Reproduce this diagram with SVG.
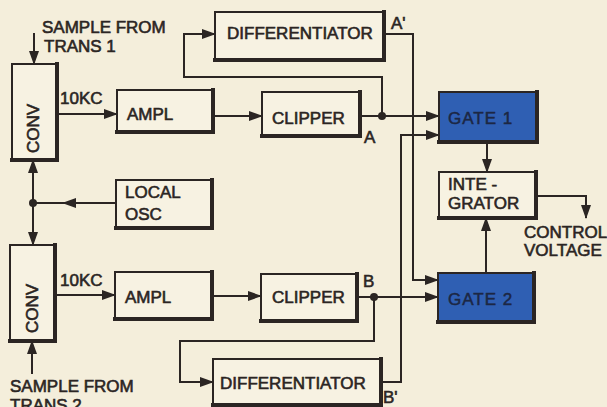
<svg xmlns="http://www.w3.org/2000/svg" width="607" height="407" viewBox="0 0 607 407">
<style>
.bg{fill:#f4eedb}
.box{fill:#f7f2e2;stroke:#2b2523;stroke-width:2}
.gate{fill:#2f5fb3;stroke:#2b2523;stroke-width:2}
.sh{fill:none;stroke:#2b2523;stroke-width:4;stroke-linecap:square}
.t{font-family:"Liberation Sans",Arial,sans-serif;font-size:17px;fill:#2b2523;stroke:#2b2523;stroke-width:0.6}
.tg{font-family:"Liberation Sans",Arial,sans-serif;font-size:17px;fill:#1c2744;stroke:#1c2744;stroke-width:0.5;letter-spacing:1px}
.w{fill:none;stroke:#2b2523;stroke-width:2}
.a{fill:none;stroke:#2b2523;stroke-width:2;marker-end:url(#ah)}
.dot{fill:#2b2523}
</style>
<defs>
<marker id="ah" markerUnits="userSpaceOnUse" markerWidth="14" markerHeight="10" refX="13" refY="5" orient="auto">
<path d="M0,0 L14,5 L0,10 Z" fill="#2b2523"/>
</marker>
</defs>
<rect class="bg" x="0" y="0" width="607" height="407"/>

<g id="connectors">
<path class="a" d="M34,33 V64"/>
<path class="a" d="M57,114 H117"/>
<path class="a" d="M213,116 H262"/>
<path class="a" d="M360,116 H439"/>
<path class="a" d="M382,116 V77 H184 V34 H215"/>
<path class="a" d="M384,34 H413 V280 H438"/>
<path class="a" d="M381,382 H401 V135 H439"/>
<path class="a" d="M357,297 H438"/>
<path class="a" d="M374,297 V341 H180 V382 H213"/>
<path class="a" d="M55,295 H115"/>
<path class="a" d="M212,296 H261"/>
<path class="w" d="M116,203 H33"/>
<path d="M62,203 L76,198 L76,208 Z" fill="#2b2523"/>
<path class="a" d="M33,203 V160"/>
<path class="a" d="M33,203 V245"/>
<path class="a" d="M32,374 V341"/>
<path class="a" d="M487,142 V172"/>
<path class="a" d="M486,273 V218"/>
<path class="a" d="M536,196 H586 V218"/>
<circle class="dot" cx="382" cy="116" r="4"/>
<circle class="dot" cx="374" cy="297" r="4"/>
<circle class="dot" cx="33" cy="203" r="4"/>
</g>

<g id="conv1">
<rect class="box" x="12" y="64" width="45" height="96"/>
<path class="sh" d="M57,64 V160 H12"/>
<text class="t" font-size="16" transform="translate(39,153) rotate(-90)">CONV</text>
</g>
<g id="conv2">
<rect class="box" x="10" y="245" width="45" height="96"/>
<path class="sh" d="M55,245 V341 H10"/>
<text class="t" font-size="16" transform="translate(38,333) rotate(-90)">CONV</text>
</g>
<g id="ampl1">
<rect class="box" x="117" y="90" width="96" height="42"/>
<path class="sh" d="M213,90 V132 H117"/>
<text class="t" x="127" y="120">AMPL</text>
</g>
<g id="ampl2">
<rect class="box" x="115" y="272" width="97" height="47"/>
<path class="sh" d="M212,272 V319 H115"/>
<text class="t" x="125" y="303">AMPL</text>
</g>
<g id="clipper1">
<rect class="box" x="262" y="92" width="98" height="44"/>
<path class="sh" d="M360,92 V136 H262"/>
<text class="t" x="272" y="124">CLIPPER</text>
</g>
<g id="clipper2">
<rect class="box" x="261" y="274" width="96" height="47"/>
<path class="sh" d="M357,274 V321 H261"/>
<text class="t" x="272" y="303">CLIPPER</text>
</g>
<g id="diff1">
<rect class="box" x="215" y="12" width="169" height="48"/>
<path class="sh" d="M384,12 V60 H215"/>
<text class="t" x="227" y="39">DIFFERENTIATOR</text>
</g>
<g id="diff2">
<rect class="box" x="213" y="359" width="168" height="46"/>
<path class="sh" d="M381,359 V405 H213"/>
<text class="t" x="220" y="389">DIFFERENTIATOR</text>
</g>
<g id="localosc">
<rect class="box" x="116" y="180" width="96" height="48"/>
<path class="sh" d="M212,180 V228 H116"/>
<text class="t" x="125" y="198">LOCAL</text>
<text class="t" x="125" y="220">OSC</text>
</g>
<g id="gate1">
<rect class="gate" x="439" y="92" width="98" height="50"/>
<path class="sh" d="M537,92 V142 H439"/>
<text class="tg" x="448" y="124">GATE  1</text>
</g>
<g id="gate2">
<rect class="gate" x="438" y="273" width="96" height="49"/>
<path class="sh" d="M534,273 V322 H438"/>
<text class="tg" x="448" y="305">GATE  2</text>
</g>
<g id="integrator">
<rect class="box" x="439" y="172" width="97" height="46"/>
<path class="sh" d="M536,172 V218 H439"/>
<text class="t" x="448" y="190">INTE -</text>
<text class="t" x="448" y="209">GRATOR</text>
</g>

<g id="labels">
<text class="t" x="42" y="33">SAMPLE FROM</text>
<text class="t" x="44" y="52">TRANS 1</text>
<text class="t" x="10" y="392">SAMPLE FROM</text>
<text class="t" x="10" y="411">TRANS 2</text>
<text class="t" x="60" y="104" font-size="15">10KC</text>
<text class="t" x="60" y="286" font-size="15">10KC</text>
<text class="t" x="391" y="29">A'</text>
<text class="t" x="364" y="143">A</text>
<text class="t" x="363" y="287">B</text>
<text class="t" x="383" y="403">B'</text>
<text class="t" x="524" y="238" font-size="14.5">CONTROL</text>
<text class="t" x="524" y="256" font-size="14.5">VOLTAGE</text>
</g>
</svg>
